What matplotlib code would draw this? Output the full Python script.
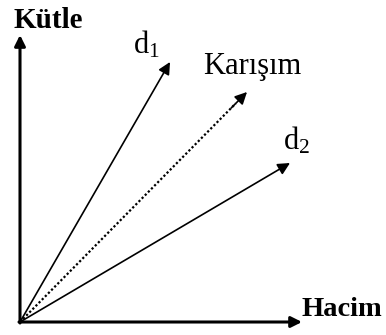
import matplotlib
matplotlib.use("Agg")
import matplotlib.pyplot as plt

plt.rcParams["font.family"] = ["Liberation Serif", "DejaVu Serif"]
plt.rcParams["mathtext.fontset"] = "custom"
plt.rcParams["mathtext.rm"] = "Liberation Serif"
plt.rcParams["mathtext.it"] = "Liberation Serif"

# ------------------------------------------
# DATA (volume, mass) end points of each vector
# ------------------------------------------
vec_names = ["d1", "mix", "d2"]
vec_volume = [150, 227, 270]
vec_mass = [260, 230, 159]
vec_labels = [r"d$_{1}$", "Karışım", r"d$_{2}$"]
label_x = [113, 183, 263]
label_y = [269, 248, 172]
vec_dotted = [False, True, False]

axis_len_x = 282
axis_len_y = 287
x_title = "Hacim"
y_title = "Kütle"

# ------------------------------------------
# FIGURE
# ------------------------------------------
fig = plt.figure(figsize=(3.86, 3.35), dpi=100)
ax = fig.add_axes([0, 0, 1, 1])
ax.set_xlim(-20, 366)
ax.set_ylim(-13, 322)
ax.axis("off")

# axes arrows
ax.annotate("", xy=(axis_len_x, 0), xytext=(-1, 0),
            arrowprops=dict(arrowstyle="-|>", lw=2.2, color="black",
                            mutation_scale=16, shrinkA=0, shrinkB=0))
ax.annotate("", xy=(0, axis_len_y), xytext=(0, -1),
            arrowprops=dict(arrowstyle="-|>", lw=2.2, color="black",
                            mutation_scale=16, shrinkA=0, shrinkB=0))

# vectors
for vx, vy, dotted in zip(vec_volume, vec_mass, vec_dotted):
    if dotted:
        ax.plot([0, vx * 0.95], [0, vy * 0.95], color="black", lw=1.6,
                linestyle=(0, (1, 1)))
        ax.annotate("", xy=(vx, vy), xytext=(vx * 0.93, vy * 0.93),
                    arrowprops=dict(arrowstyle="-|>", lw=1.2, color="black",
                                    mutation_scale=18, shrinkA=0, shrinkB=0))
    else:
        ax.annotate("", xy=(vx, vy), xytext=(0, 0),
                    arrowprops=dict(arrowstyle="-|>", lw=1.2, color="black",
                                    mutation_scale=18, shrinkA=0, shrinkB=0))

for lx, ly, txt in zip(label_x, label_y, vec_labels):
    ax.text(lx, ly, txt, fontsize=22, ha="left", va="baseline")

ax.text(-7, 294, y_title, fontsize=21, fontweight="bold", ha="left", va="baseline")
ax.text(281, 6, x_title, fontsize=20.5, fontweight="bold", ha="left", va="baseline")

plt.savefig("out.png", dpi=100)
